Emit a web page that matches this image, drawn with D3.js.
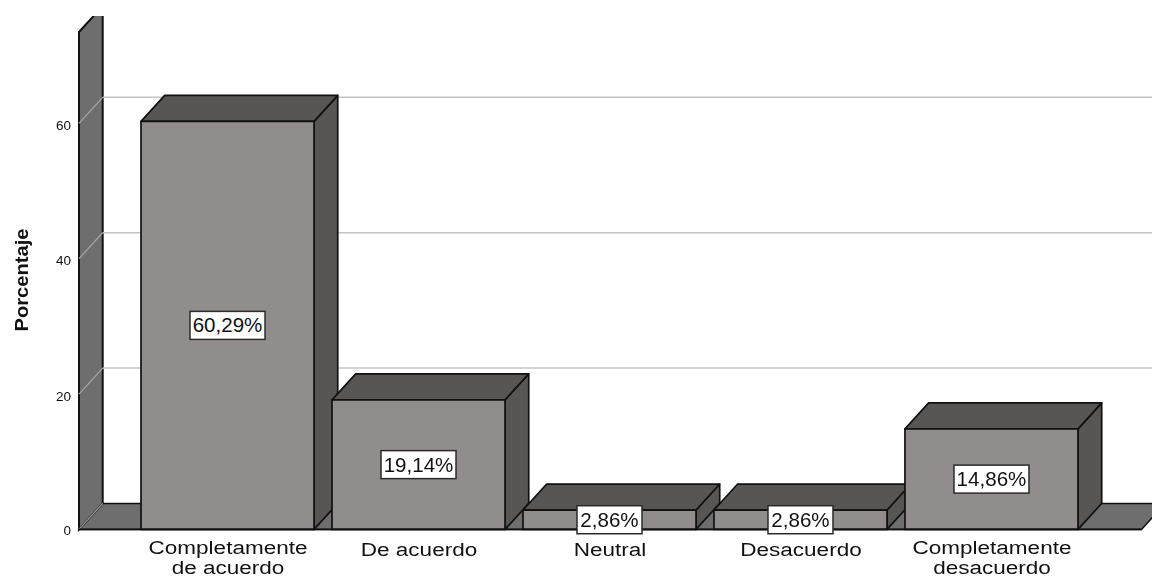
<!DOCTYPE html>
<html><head><meta charset="utf-8">
<script src="https://cdn.jsdelivr.net/npm/d3@7"></script>
<style>html,body{margin:0;padding:0;background:#fff}svg{display:block;filter:blur(0.45px)}text{font-family:"Liberation Sans",Arial,sans-serif;fill:#111}</style>
</head><body><svg id="c" width="1152" height="577"></svg>
<script>
const categories = [["Completamente","de acuerdo"],["De acuerdo"],["Neutral"],["Desacuerdo"],["Completamente","desacuerdo"]];
const values = [60.29,19.14,2.86,2.86,14.86];
const valueLabels = ["60,29%","19,14%","2,86%","2,86%","14,86%"];
const yTicks = [0,20,40,60];
const yTitle = "Porcentaje";
const yMax = 73.5;

const svg = d3.select("#c");
const W=1152, baseY=529.4, leftX=79, dx=23.7, dy=26;
const y = d3.scaleLinear().domain([0,yMax]).range([baseY,32]);
const x = d3.scaleBand().domain(d3.range(values.length)).range([141,1078]).paddingInner(0.094).paddingOuter(0);
const line = "#111", wall="#6f6e6e", front="#918d8c", dark="#585654", grid="#c4c4c4", wallGrid="#a6a6a6";
const poly = pts => pts.map(p=>p.join(",")).join(" ");

svg.append("defs").append("clipPath").attr("id","pc").append("rect").attr("x",0).attr("y",16).attr("width",W).attr("height",561);
const g = svg.append("g").attr("clip-path","url(#pc)");

const wallPts = [[leftX,y(yMax)],[leftX+dx,y(yMax)-dy],[leftX+dx,baseY-dy],[leftX,baseY]];
const floorEnd = 1141.5;
g.append("polygon").attr("points",poly([[leftX,baseY],[leftX+dx,baseY-dy],[floorEnd+dx,baseY-dy],[floorEnd,baseY]])).attr("fill",wall).attr("stroke",line).attr("stroke-width",1.5);
g.append("polygon").attr("points",poly(wallPts)).attr("fill",wall).attr("stroke",line).attr("stroke-width",2);

yTicks.forEach(t=>{
  g.append("line").attr("x1",leftX).attr("y1",y(t)).attr("x2",leftX+dx).attr("y2",y(t)-dy).attr("stroke",wallGrid).attr("stroke-width",1.2);
  if(t>0) g.append("line").attr("x1",leftX+dx).attr("y1",y(t)-dy).attr("x2",W).attr("y2",y(t)-dy).attr("stroke",grid).attr("stroke-width",1.5);
});

values.forEach((v,i)=>{
  const x0=x(i), x1=x0+x.bandwidth(), yt=y(v);
  const b=g.append("g").attr("stroke",line).attr("stroke-width",1.7).attr("stroke-linejoin","round");
  b.append("polygon").attr("points",poly([[x1,baseY],[x1+dx,baseY-dy],[x1+dx,yt-dy],[x1,yt]])).attr("fill",dark);
  b.append("polygon").attr("points",poly([[x0,yt],[x0+dx,yt-dy],[x1+dx,yt-dy],[x1,yt]])).attr("fill",dark);
  b.append("rect").attr("x",x0).attr("y",yt).attr("width",x.bandwidth()).attr("height",baseY-yt).attr("fill",front);
});
g.append("line").attr("x1",leftX).attr("x2",floorEnd).attr("y1",baseY).attr("y2",baseY).attr("stroke",line).attr("stroke-width",1.7);

values.forEach((v,i)=>{
  const cx=x(i)+x.bandwidth()/2, cy=(y(v)+baseY)/2;
  const w=valueLabels[i].length===6?75:65;
  svg.append("rect").attr("x",cx-w/2).attr("y",cy-14).attr("width",w).attr("height",28).attr("fill","#fff").attr("stroke","#2a2a2a").attr("stroke-width",1.5);
  svg.append("text").attr("transform",`translate(${cx},${cy+7}) scale(1.055,1)`).attr("text-anchor","middle").attr("font-size",19.5).text(valueLabels[i]);
});

yTicks.forEach(t=>{
  svg.append("text").attr("x",71).attr("y",y(t)+(t===0?6:6.5)).attr("text-anchor","end").attr("font-size",13.5).text(t);
});
svg.append("text").attr("transform","translate(28,280) rotate(-90)").attr("text-anchor","middle").attr("font-size",18).attr("font-weight","bold").attr("textLength",103).attr("lengthAdjust","spacingAndGlyphs").text(yTitle);

categories.forEach((c,i)=>{
  const cx=x(i)+x.bandwidth()/2+0.5;
  const single = c.length===1;
  c.forEach((s,j)=>{
    svg.append("text").attr("transform",`translate(${cx},${(single?556:554)+j*19.5}) scale(1.185,1)`).attr("text-anchor","middle").attr("font-size",19).text(s);
  });
});
</script></body></html>
